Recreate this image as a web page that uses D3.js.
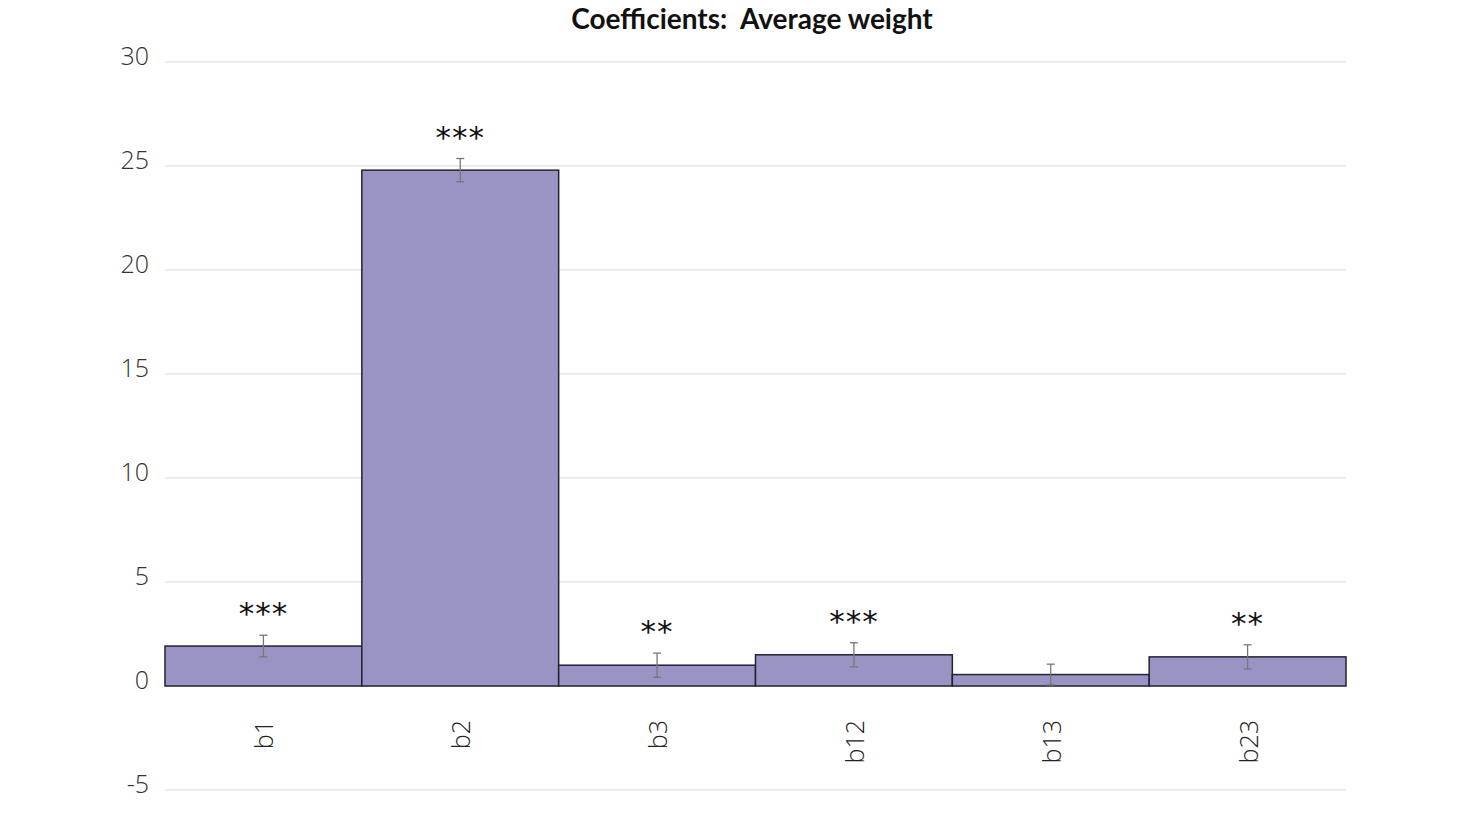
<!DOCTYPE html>
<html><head><meta charset="utf-8">
<script src="https://cdn.jsdelivr.net/npm/d3@7"></script>
<style>body{margin:0;background:#fff}</style>
</head><body>
<svg id="c" width="1465" height="824"></svg>
<script>
const categories = ["b1","b2","b3","b12","b13","b23"];
const values = [1.92, 24.8, 1.0, 1.5, 0.55, 1.4];
const errors = [0.52, 0.56, 0.58, 0.58, 0.5, 0.58];
const stars = ["***","***","**","***","","**"];
const yTicks = [-5,0,5,10,15,20,25,30];
const title = "Coefficients:  Average weight";

const svg = d3.select("#c");
const x = d3.scaleBand().domain(categories).range([165,1346]).padding(0);
const y = d3.scaleLinear().domain([-5,30]).range([790,62]);

svg.append("text").attr("x",752).attr("y",29).attr("text-anchor","middle")
  .style("white-space","pre")
  .attr("font-family","Lato, 'Open Sans', sans-serif").attr("font-weight","bold")
  .attr("font-size",28).attr("fill","#111").text(title);

const grid = svg.append("g");
grid.selectAll("line").data(yTicks).join("line")
  .attr("x1",165).attr("x2",1346).attr("y1",d=>y(d)).attr("y2",d=>y(d))
  .attr("stroke","#d9d9d9").attr("stroke-width",1.2);

const yAxis = d3.axisLeft(y).tickValues(yTicks).tickSize(0).tickPadding(0).tickFormat(d=>String(d));
const ga = svg.append("g").attr("transform","translate(149,0)").call(yAxis);
ga.select(".domain").remove();
ga.selectAll("text").attr("font-family","'Open Sans', sans-serif").attr("font-weight",300)
  .attr("font-size",25).attr("fill","#333").attr("dy","0.1em");

svg.append("g").selectAll("rect").data(categories).join("rect")
  .attr("x",d=>x(d)).attr("width",x.bandwidth())
  .attr("y",(d,i)=>y(Math.max(0,values[i]))).attr("height",(d,i)=>Math.abs(y(values[i])-y(0)))
  .attr("fill","#9a94c5").attr("stroke","#222233").attr("stroke-width",1.5);

const eb = svg.append("g").attr("stroke","#777").attr("stroke-width",1.3);
categories.forEach((c,i)=>{
  const cx = x(c)+x.bandwidth()/2;
  const t = y(values[i]+errors[i]), b = y(values[i]-errors[i]);
  eb.append("line").attr("x1",cx).attr("x2",cx).attr("y1",t).attr("y2",b);
  eb.append("line").attr("x1",cx-4).attr("x2",cx+4).attr("y1",t).attr("y2",t);
  eb.append("line").attr("x1",cx-4).attr("x2",cx+4).attr("y1",b).attr("y2",b);
  svg.append("text").attr("x",cx).attr("y",t-11).attr("text-anchor","middle")
    .attr("font-family","'DejaVu Sans', sans-serif").attr("font-size",31).attr("fill","#111")
    .attr("letter-spacing",1)
    .text(stars[i]);
});

const xl = svg.append("g");
categories.forEach(c=>{
  const cx = x(c)+x.bandwidth()/2;
  xl.append("text").attr("transform",`translate(${cx+10},720) rotate(-90)`)
    .attr("text-anchor","end").attr("font-family","'Open Sans', sans-serif").attr("font-weight",300)
    .attr("font-size",25).attr("fill","#222").text(c);
});
</script>
</body></html>
